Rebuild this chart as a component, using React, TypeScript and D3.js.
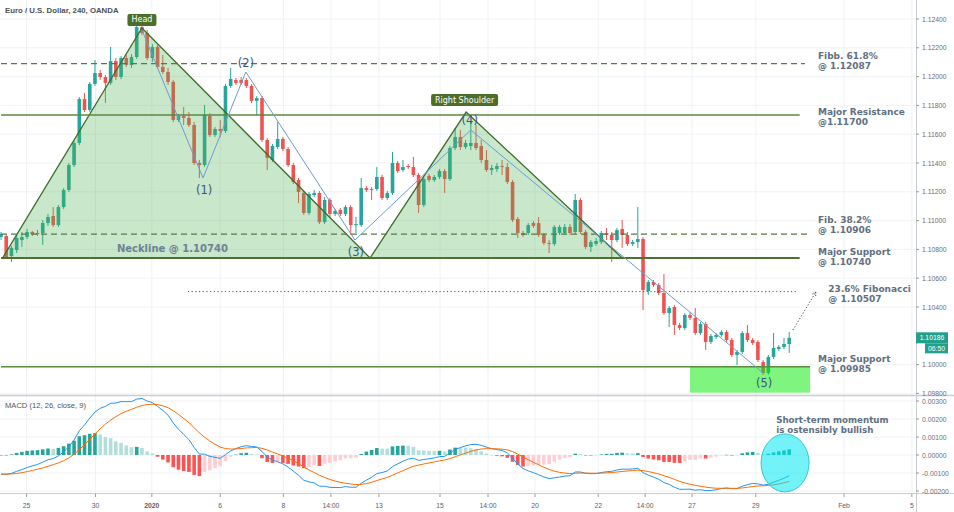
import React from 'react';
import * as d3 from 'd3';

// ---------------- DATA (EUR/USD 4h candles) ----------------
const opens = [1.10886,1.10893,1.10754,1.10796,1.10865,1.10886,1.10921,1.10907,1.10914,1.10983,1.11032,1.10969,1.11094,1.11213,1.11386,1.11539,1.11844,1.11768,1.11949,1.12025,1.11997,1.11956,1.12108,1.11997,1.12129,1.12081,1.12136,1.12344,1.12303,1.12129,1.12206,1.12067,1.12032,1.11963,1.11699,1.11726,1.11713,1.11664,1.11400,1.11386,1.11726,1.11594,1.11636,1.11622,1.11935,1.11976,1.11976,1.11976,1.11935,1.11831,1.11851,1.11560,1.11421,1.11511,1.11567,1.11497,1.11386,1.11282,1.11192,1.11053,1.11178,1.11192,1.10990,1.11143,1.11046,1.11074,1.11046,1.11094,1.10969,1.10969,1.11226,1.11219,1.11219,1.11303,1.11157,1.11192,1.11400,1.11351,1.11379,1.11372,1.11317,1.11108,1.11310,1.11282,1.11303,1.11344,1.11289,1.11504,1.11581,1.11511,1.11518,1.11539,1.11518,1.11421,1.11351,1.11358,1.11379,1.11372,1.11268,1.11011,1.10914,1.10914,1.10983,1.10983,1.10900,1.10844,1.10838,1.10914,1.10914,1.10956,1.10921,1.11143,1.10921,1.10817,1.10838,1.10851,1.10914,1.10900,1.10865,1.10942,1.10900,1.10838,1.10851,1.10872,1.10511,1.10574,1.10553,1.10497,1.10358,1.10400,1.10275,1.10254,1.10345,1.10324,1.10219,1.10282,1.10157,1.10192,1.10206,1.10226,1.10171,1.10067,1.10088,1.10219,1.10171,1.10157,1.10018,1.09942,1.10053,1.10108,1.10122,1.10143];
const highs = [1.10921,1.10907,1.10824,1.10907,1.10921,1.10942,1.10928,1.10935,1.11004,1.11046,1.11094,1.11108,1.11226,1.11400,1.11553,1.11858,1.11886,1.11963,1.12115,1.12046,1.12011,1.12206,1.12129,1.12143,1.12150,1.12157,1.12365,1.12379,1.12324,1.12226,1.12219,1.12150,1.12060,1.11976,1.11740,1.11789,1.11754,1.11685,1.11421,1.11803,1.11747,1.11650,1.11699,1.11949,1.12060,1.11990,1.11997,1.11990,1.11949,1.11865,1.11865,1.11574,1.11532,1.11685,1.11581,1.11511,1.11400,1.11296,1.11206,1.11199,1.11213,1.11206,1.11164,1.11157,1.11081,1.11088,1.11108,1.11108,1.11025,1.11296,1.11240,1.11233,1.11372,1.11317,1.11206,1.11476,1.11414,1.11421,1.11393,1.11442,1.11331,1.11303,1.11324,1.11317,1.11358,1.11358,1.11518,1.11643,1.11629,1.11560,1.11685,1.11664,1.11560,1.11490,1.11386,1.11400,1.11421,1.11400,1.11282,1.11025,1.10928,1.10983,1.10997,1.11025,1.10914,1.10865,1.10969,1.10969,1.10976,1.10976,1.11185,1.11157,1.10935,1.10865,1.10879,1.10928,1.10949,1.10921,1.10949,1.11004,1.10921,1.10865,1.11094,1.10886,1.10588,1.10588,1.10567,1.10629,1.10407,1.10414,1.10289,1.10358,1.10365,1.10393,1.10296,1.10296,1.10213,1.10219,1.10240,1.10240,1.10185,1.10101,1.10233,1.10275,1.10185,1.10171,1.10032,1.10067,1.10219,1.10136,1.10185,1.10226];
const lows = [1.10865,1.10733,1.10713,1.10775,1.10817,1.10872,1.10893,1.10893,1.10831,1.10963,1.10956,1.10956,1.11081,1.11199,1.11372,1.11525,1.11754,1.11754,1.11935,1.11976,1.11817,1.11942,1.11976,1.11983,1.12067,1.12060,1.12122,1.12289,1.12115,1.12101,1.12053,1.12018,1.11942,1.11685,1.11685,1.11664,1.11650,1.11386,1.11296,1.11372,1.11581,1.11581,1.11581,1.11608,1.11921,1.11942,1.11942,1.11921,1.11817,1.11733,1.11546,1.11351,1.11407,1.11497,1.11483,1.11372,1.11254,1.11122,1.11039,1.11039,1.11164,1.10976,1.10976,1.11018,1.11032,1.11032,1.11032,1.10900,1.10914,1.10956,1.11199,1.11143,1.11206,1.11143,1.11143,1.11178,1.11331,1.11338,1.11358,1.11303,1.11053,1.11094,1.11268,1.11268,1.11289,1.11192,1.11275,1.11490,1.11490,1.11497,1.11490,1.11490,1.11400,1.11338,1.11317,1.11338,1.11317,1.11254,1.10990,1.10879,1.10886,1.10900,1.10949,1.10886,1.10831,1.10775,1.10824,1.10900,1.10900,1.10900,1.10907,1.10907,1.10803,1.10782,1.10824,1.10838,1.10865,1.10713,1.10851,1.10810,1.10824,1.10824,1.10810,1.10379,1.10483,1.10539,1.10483,1.10345,1.10261,1.10206,1.10240,1.10240,1.10310,1.10206,1.10206,1.10101,1.10143,1.10178,1.10192,1.10157,1.10053,1.09997,1.10074,1.10157,1.10136,1.10018,1.09928,1.09928,1.10039,1.10094,1.10108,1.10081];
const closes = [1.10907,1.10747,1.10810,1.10879,1.10886,1.10921,1.10907,1.10914,1.10983,1.11025,1.10969,1.11094,1.11213,1.11386,1.11539,1.11844,1.11768,1.11949,1.12025,1.11997,1.11956,1.12108,1.11997,1.12129,1.12081,1.12136,1.12344,1.12303,1.12129,1.12206,1.12067,1.12032,1.11963,1.11699,1.11726,1.11713,1.11664,1.11400,1.11386,1.11733,1.11594,1.11636,1.11622,1.11935,1.11983,1.11956,1.11956,1.11935,1.11831,1.11851,1.11560,1.11435,1.11518,1.11567,1.11497,1.11386,1.11268,1.11199,1.11053,1.11185,1.11192,1.10990,1.11143,1.11046,1.11067,1.11046,1.11094,1.10969,1.10976,1.11226,1.11213,1.11213,1.11303,1.11157,1.11192,1.11400,1.11344,1.11372,1.11372,1.11317,1.11108,1.11289,1.11282,1.11303,1.11344,1.11289,1.11504,1.11581,1.11511,1.11539,1.11539,1.11504,1.11421,1.11351,1.11365,1.11379,1.11372,1.11268,1.11004,1.10914,1.10900,1.10969,1.10963,1.10900,1.10844,1.10838,1.10956,1.10956,1.10956,1.10914,1.11143,1.10921,1.10817,1.10851,1.10858,1.10914,1.10900,1.10865,1.10935,1.10900,1.10838,1.10851,1.10872,1.10518,1.10574,1.10553,1.10497,1.10358,1.10393,1.10275,1.10254,1.10345,1.10324,1.10219,1.10282,1.10157,1.10199,1.10206,1.10226,1.10171,1.10067,1.10088,1.10219,1.10171,1.10150,1.10032,1.09942,1.10053,1.10115,1.10122,1.10143,1.10186];

// MACD (12, 26, close, 9) seeds read at the left edge of the indicator pane
const macdSeedFast = 1.1086;
const macdSeedSlow = 1.10966;
const macdSeedSignal = -0.00106;

// axes
const priceTicks = [1.124, 1.122, 1.12, 1.118, 1.116, 1.114, 1.112, 1.11, 1.108, 1.106, 1.104, 1.1, 1.098];
const macdTicks = [0.003, 0.002, 0.001, 0, -0.001, -0.002];
const timeTickIdx = [4.9, 18.1, 28.9, 42.0, 54.1, 63.2, 72.4, 84.1, 93.3, 102.3, 114.4, 123.4, 132.4, 144.6, 161.5, 174.5];
const timeTickLabels = ['25', '30', '2020', '6', '8', '14:00', '13', '15', '14:00', '20', '22', '14:00', '27', '29', 'Feb', '5'];

// head & shoulders pattern (candle index, price)
const patternIdx = [0.3, 27.0, 70.7, 89.1, 119.0];
const patternPrice = [1.1074, 1.12338, 1.1074, 1.11754, 1.1074];

// wave count zigzag
const waveIdx = [27.0, 38.7, 46.9, 67.8, 90.0, 146.0];
const wavePrice = [1.12324, 1.11296, 1.12032, 1.10865, 1.11629, 1.09942];
const waveLabels = ['(1)', '(2)', '(3)', '(4)', '(5)'];
const waveLabelIdx = [38.9, 46.9, 68.0, 89.8, 146.2];
const waveLabelPrice = [1.11213, 1.12094, 1.10782, 1.11699, 1.09872];

// horizontal levels
const levelPrices = [1.1209, 1.11733, 1.10906, 1.1074, 1.10507, 1.09985];
const levelStartIdx = [0, 0, 0, 0, 35.8, 0];
const levelEndIdx = [154, 153, 155, 153, 152.7, 155];
const levelLabelLines = [
  ['Fibb. 61.8%', '@ 1.12087'],
  ['Major Resistance', '@1.11700'],
  ['Fib. 38.2%', '@ 1.10906'],
  ['Major Support', '@ 1.10740'],
  ['23.6% Fibonacci', '@ 1.10507'],
  ['Major Support', '@ 1.09985'],
];
const levelLabelPrice = [1.12119, 1.1173, 1.10982, 1.10761, 1.10504, 1.10018];
const levelLabelIdx = [156.5, 156.5, 156.5, 156.5, 158.5, 156.5];

// support zone
const zoneIdx = [132, 155];
const zonePrice = [1.09985, 1.09805];

// arrow towards 23.6%
const arrowIdx = [151.7, 156.1];
const arrowPrice = [1.1024, 1.10504];

const necklineText = 'Neckline @ 1.10740';
const necklineTextIdx = 22.2;
const necklineTextPrice = 1.10782;

const momentumLines = ['Short-term momentum', 'is ostensibly bullish'];
const momentumIdx = 148.5;
const momentumVals = [0.00178, 0.00125];
const ellipseIdx = 150.2;
const ellipseVal = -0.00044;

const titleText = 'Euro / U.S. Dollar, 240, OANDA';
const macdTitle = 'MACD (12, 26, close, 9)';
const countdown = '06:50';

// ---------------- STYLES ----------------
const UP = '#26a69a';
const DOWN = '#ef5350';
const GRID = '#f0f2f6';
const UI = '"Liberation Sans", Arial, sans-serif';
const DRAW = '"DejaVu Sans", Verdana, sans-serif';
const levelDash = ['6,4', null, '6,4', null, '1.2,2.5', null];
const levelColor = ['#557a45', '#5b8a3c', '#557a45', '#4a7230', '#555555', '#5b8a3c'];
const levelWidth = [1.4, 1.4, 1.4, 2, 1, 1.4];

export default function App() {
  const x = d3.scaleLinear().domain([0, 175]).range([1, 914.5]);
  const y = d3.scaleLinear().domain([1.098, 1.124]).range([393.4, 19]);
  const ym = d3.scaleLinear().domain([-0.002, 0.003]).range([491, 401]);

  // MACD computed from the closes
  const k12 = 2 / 13, k26 = 2 / 27, k9 = 2 / 10;
  const macd: number[] = [];
  const signal: number[] = [];
  const hist: number[] = [];
  let f = macdSeedFast, s = macdSeedSlow, sig = macdSeedSignal;
  closes.forEach((c, i) => {
    if (i > 0) {
      f = c * k12 + f * (1 - k12);
      s = c * k26 + s * (1 - k26);
    }
    const m = f - s;
    if (i > 0) sig = m * k9 + sig * (1 - k9);
    macd.push(m);
    signal.push(sig);
    hist.push(m - sig);
  });
  const histColor = (i: number) => {
    const h = hist[i];
    const p = i > 0 ? hist[i - 1] : h;
    if (h >= 0) return h > p ? '#26a69a' : '#b2dfdb';
    return h > p ? '#ffcdd2' : '#ff5252';
  };
  const line = d3.line<number>().x((_, i) => x(i)).y((d) => ym(d));

  const patternPts = patternIdx.map((d, i) => [x(d), y(patternPrice[i])] as [number, number]);
  const patternPath = 'M' + patternPts.map((p) => p.join(',')).join('L') + 'Z';
  const wavePath = d3.line<number>().x((d) => x(d)).y((_, i) => y(wavePrice[i]))(waveIdx) || '';

  const bodyW = 3.6;
  const lastClose = closes[closes.length - 1];
  const ax0 = x(arrowIdx[0]), ay0 = y(arrowPrice[0]), ax1 = x(arrowIdx[1]), ay1 = y(arrowPrice[1]);
  const ang = Math.atan2(ay1 - ay0, ax1 - ax0);
  const ah = 5;

  const headX = x(patternIdx[1]);
  const headY = y(patternPrice[1]);
  const rsX = x(patternIdx[3]);
  const rsY = y(patternPrice[3]);

  return (
    <svg width={954} height={512} style={{ position: 'absolute', left: 0, top: 0, background: '#fff' }}>
      <defs>
        <clipPath id="mainClip"><rect x={0} y={0} width={916} height={395} /></clipPath>
        <clipPath id="macdClip"><rect x={0} y={396} width={916} height={97} /></clipPath>
      </defs>
      <rect x={0} y={0} width={954} height={512} fill="#fff" />

      {/* grid */}
      {priceTicks.map((p) => (
        <line key={'pg' + p} x1={0} x2={916} y1={y(p)} y2={y(p)} stroke={GRID} strokeWidth={1} />
      ))}
      {macdTicks.map((v) => (
        <line key={'mg' + v} x1={0} x2={916} y1={ym(v)} y2={ym(v)} stroke={GRID} strokeWidth={1} />
      ))}
      {timeTickIdx.map((t, i) => (
        <line key={'tg' + i} x1={x(t)} x2={x(t)} y1={0} y2={493} stroke={GRID} strokeWidth={1} />
      ))}

      {/* candles */}
      <g clipPath="url(#mainClip)">
        {closes.map((c, i) => {
          const o = opens[i];
          const col = c >= o ? UP : DOWN;
          const top = y(Math.max(o, c));
          const bot = y(Math.min(o, c));
          return (
            <g key={'c' + i}>
              <line x1={x(i)} x2={x(i)} y1={y(highs[i])} y2={y(lows[i])} stroke={col} strokeWidth={1} />
              <rect x={x(i) - bodyW / 2} y={top} width={bodyW} height={Math.max(1, bot - top)} fill={col} />
            </g>
          );
        })}

        {/* pattern fill */}
        <path d={patternPath} fill="rgba(76,175,80,0.3)" stroke="none" />
        <polyline points={patternPts.map((p) => p.join(',')).join(' ')} fill="none" stroke="#3f6b2a" strokeWidth={1.3} />

        {/* support zone */}
        <rect x={x(zoneIdx[0])} y={y(zonePrice[0])} width={x(zoneIdx[1]) - x(zoneIdx[0])} height={y(zonePrice[1]) - y(zonePrice[0])} fill="rgba(0,236,0,0.5)" />

        {/* levels */}
        {levelPrices.map((p, i) => (
          <line key={'lv' + i} x1={x(levelStartIdx[i])} x2={x(levelEndIdx[i])} y1={y(p)} y2={y(p)} stroke={levelColor[i]} strokeWidth={levelWidth[i]} strokeDasharray={levelDash[i] || undefined} />
        ))}

        {/* wave zigzag */}
        <path d={wavePath} fill="none" stroke="#6b9bd2" strokeWidth={1} />
        {waveLabels.map((t, i) => (
          <text key={'wl' + i} x={x(waveLabelIdx[i])} y={y(waveLabelPrice[i])} textAnchor="middle" dominantBaseline="central" fontFamily={DRAW} fontSize={11.5} fill="#36587f">{t}</text>
        ))}

        {/* neckline text */}
        <text x={x(necklineTextIdx)} y={y(necklineTextPrice)} fontFamily={DRAW} fontWeight="bold" fontSize={10} fill="#6d8194">{necklineText}</text>

        {/* level labels */}
        {levelLabelLines.map((ls, i) => (
          <text key={'ll' + i} x={x(levelLabelIdx[i])} y={y(levelLabelPrice[i])} fontFamily={DRAW} fontWeight="bold" fontSize={9} fill="#5f6f80">
            <tspan x={x(levelLabelIdx[i])} dy={0}>{ls[0]}</tspan>
            <tspan x={x(levelLabelIdx[i])} dy={10}>{ls[1]}</tspan>
          </text>
        ))}

        {/* arrow */}
        <line x1={ax0} y1={ay0} x2={ax1} y2={ay1} stroke="#444" strokeWidth={1} strokeDasharray="1.2,2" />
        <line x1={ax1} y1={ay1} x2={ax1 - ah * Math.cos(ang - 0.5)} y2={ay1 - ah * Math.sin(ang - 0.5)} stroke="#444" strokeWidth={1} strokeDasharray="1.2,1.5" />
        <line x1={ax1} y1={ay1} x2={ax1 - ah * Math.cos(ang + 0.5)} y2={ay1 - ah * Math.sin(ang + 0.5)} stroke="#444" strokeWidth={1} strokeDasharray="1.2,1.5" />

        {/* Head / Right Shoulder tags */}
        <rect x={headX - 14.5} y={headY - 14} width={29} height={12} rx={2} fill="#4a6e2c" />
        <text x={headX} y={headY - 8} textAnchor="middle" dominantBaseline="central" fontFamily={DRAW} fontSize={8} fill="#fff">Head</text>
        <rect x={rsX - 35} y={rsY - 18} width={67} height={12} rx={2} fill="#4a6e2c" />
        <text x={rsX - 1.5} y={rsY - 12} textAnchor="middle" dominantBaseline="central" fontFamily={DRAW} fontSize={8} fill="#fff">Right Shoulder</text>
      </g>

      {/* MACD pane */}
      <g clipPath="url(#macdClip)">
        {hist.map((h, i) => (
          <rect key={'h' + i} x={x(i) - 1.8} y={Math.min(ym(h), ym(0))} width={3.6} height={Math.max(0.5, Math.abs(ym(h) - ym(0)))} fill={histColor(i)} />
        ))}
        <path d={line(macd) || ''} fill="none" stroke="#2196f3" strokeWidth={1} />
        <path d={line(signal) || ''} fill="none" stroke="#ff6d00" strokeWidth={1} />
        <ellipse cx={x(ellipseIdx)} cy={ym(ellipseVal)} rx={24} ry={29} fill="rgba(0,232,240,0.55)" stroke="#35c6d4" strokeWidth={1} />
      </g>
      {momentumLines.map((t, i) => (
        <text key={'mm' + i} x={x(momentumIdx)} y={ym(momentumVals[i])} fontFamily={DRAW} fontWeight="bold" fontSize={8.7} fill="#5f6f80">{t}</text>
      ))}

      {/* separators & axes */}
      <line x1={0} x2={954} y1={395.5} y2={395.5} stroke="#c9ccd3" strokeWidth={1.5} />
      <line x1={0} x2={954} y1={493.5} y2={493.5} stroke="#c9ccd3" strokeWidth={1} />
      <line x1={916.5} x2={916.5} y1={0} y2={512} stroke="#c9ccd3" strokeWidth={1} />

      {priceTicks.map((p) => (
        <g key={'pt' + p}>
          <line x1={916} x2={919} y1={y(p)} y2={y(p)} stroke="#999" />
          <text x={922} y={y(p)} dominantBaseline="central" fontFamily={UI} fontSize={6.8} fill="#6b6e78">{p.toFixed(5)}</text>
        </g>
      ))}
      {macdTicks.map((v) => (
        <g key={'mt' + v}>
          <line x1={916} x2={919} y1={ym(v)} y2={ym(v)} stroke="#999" />
          <text x={922} y={ym(v)} dominantBaseline="central" fontFamily={UI} fontSize={6.8} fill="#6b6e78">{v.toFixed(5)}</text>
        </g>
      ))}
      {timeTickIdx.map((t, i) => (
        <g key={'tt' + i}>
          <line x1={x(t)} x2={x(t)} y1={494} y2={497} stroke="#999" />
          <text x={x(t)} y={505} textAnchor="middle" dominantBaseline="central" fontFamily={UI} fontSize={6.8} fontWeight={timeTickLabels[i] === '2020' ? 'bold' : 'normal'} fill="#5d6069">{timeTickLabels[i]}</text>
        </g>
      ))}

      {/* last price badge */}
      <rect x={916} y={y(lastClose) - 5.5} width={32} height={11} fill="#22a08c" />
      <text x={932} y={y(lastClose)} textAnchor="middle" dominantBaseline="central" fontFamily={UI} fontSize={6.8} fill="#fff">{lastClose.toFixed(5)}</text>
      <rect x={925} y={y(lastClose) + 5.5} width={23} height={10} fill="#22a08c" />
      <text x={936.5} y={y(lastClose) + 10.5} textAnchor="middle" dominantBaseline="central" fontFamily={UI} fontSize={6.8} fill="#fff">{countdown}</text>

      {/* titles */}
      <text x={5} y={10} dominantBaseline="central" fontFamily={UI} fontWeight="bold" fontSize={7.8} fill="#4d4f55">{titleText}</text>
      <text x={5} y={405} dominantBaseline="central" fontFamily={UI} fontSize={7.6} fill="#555">{macdTitle}</text>
    </svg>
  );
}
